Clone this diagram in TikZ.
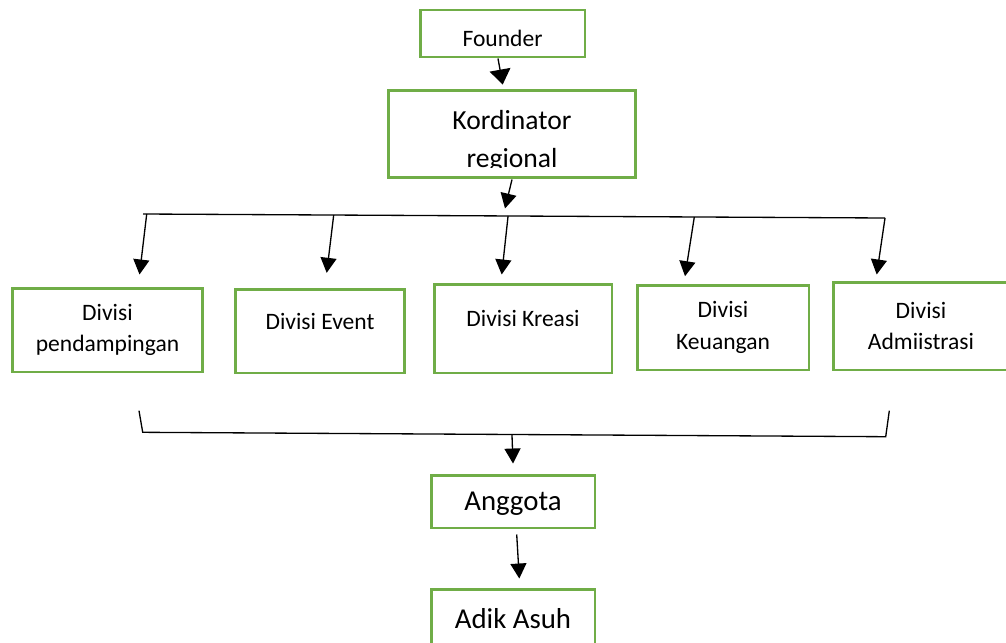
\documentclass[tikz,border=0pt]{standalone}
\usepackage{fontspec}
\setmainfont{Carlito}
\usetikzlibrary{arrows.meta, positioning, calc}
\definecolor{boxgreen}{RGB}{112,173,71}
\definecolor{linedark}{RGB}{0,0,0}
\tikzset{
  gbox/.style={rectangle, draw=boxgreen, line width=1.7pt, inner sep=0pt,
    align=center, font=\fontsize{13.4}{18}\selectfont},
  bigbox/.style={gbox, text depth=0pt, font=\fontsize{16.4}{21.5}\selectfont},
  kordtxt/.style={inner sep=0pt, align=center,
    font=\fontsize{15.7}{21.5}\selectfont},
  raised/.style={text height=9.3pt, text depth=11.3pt},
  lowered/.style={text height=14.4pt, text depth=0pt},
  arrow/.style={-{Triangle[length=0.30cm, width=0.32cm]}, line width=0.75pt, color=linedark},
  line/.style={line width=0.75pt, color=linedark}
}

\begin{document}
\begin{tikzpicture}[x=0.02cm, y=-0.02cm]
  \clip (0,0) rectangle (1006,642);
  % top of the chart
  \node[gbox, lowered, minimum width=3.30cm, minimum height=0.94cm] (founder) at (502.5,33.5) {Founder};
  \node[gbox, minimum width=4.96cm, minimum height=1.76cm] (kord) at (512,134) {};
  \begin{scope}
    \clip ($(kord.north west)+(3,3)$) rectangle ($(kord.south east)+(-3,-12)$);
    \node[kordtxt] (kordtext) at ($(kord.center)+(0,7.5)$) {Kordinator\\regional};
  \end{scope}

  % divisions
  \node[gbox, minimum width=3.82cm, minimum height=1.68cm] (pend) at (107.5,330) {Divisi\\pendampingan};
  \node[gbox, raised, minimum width=3.40cm, minimum height=1.68cm] (event) at (320,331) {Divisi Event};
  \node[gbox, raised, minimum width=3.56cm, minimum height=1.78cm] (kreasi) at (523,328.5) {Divisi Kreasi};
  \node[gbox, minimum width=3.44cm, minimum height=1.70cm] (keu) at (723,327.5) {Divisi\\Keuangan};
  \node[gbox, minimum width=3.52cm, minimum height=1.76cm] (adm) at (921,326) {Divisi\\Admiistrasi};

  % bottom
  \node[bigbox, minimum width=3.28cm, minimum height=1.06cm] (ang) at (513,501.5) {Anggota};
  \node[bigbox, minimum width=3.28cm, minimum height=1.16cm] (adik) at (513,618) {Adik Asuh};

  \draw[arrow, -{Triangle[length=0.30cm, width=0.42cm]}] ($(founder.south)+(-4.5,0)$) -- ($(kord.north)+(-9.3,-4)$);
  \draw[arrow] (kord.south) -- ($(kord.south)+(-7,29)$);

  \coordinate (busL) at (143,214);
  \coordinate (busR) at (885,218);
  \draw[line] (busL) -- (busR);
  \foreach \dv/\pos/\dx/\dy in {pend/0.005/32/-12, event/0.257/6.7/-14.7,
      kreasi/0.492/-21.3/-8, keu/0.743/-38/-7.3, adm/1/-44.3/-6}
    \draw[arrow] ($(busL)!\pos!(busR)$) -- ($(\dv.north)+(\dx,\dy)$);

  \coordinate (brTL) at (139,410.7);
  \coordinate (brBL) at (142.7,432.3);
  \coordinate (brBR) at (885.7,436.7);
  \coordinate (brTR) at (889.3,410.7);
  \draw[line] (brTL) -- (brBL) -- (brBR) -- (brTR);
  \draw[arrow] ($(brBL)!0.497!(brBR)$) -- ($(ang.north)+(0,-10)$);
  \draw[arrow] ($(ang.south)+(3.7,5)$) -- ($(adik.north)+(6.3,-9)$);
\end{tikzpicture}
\end{document}
